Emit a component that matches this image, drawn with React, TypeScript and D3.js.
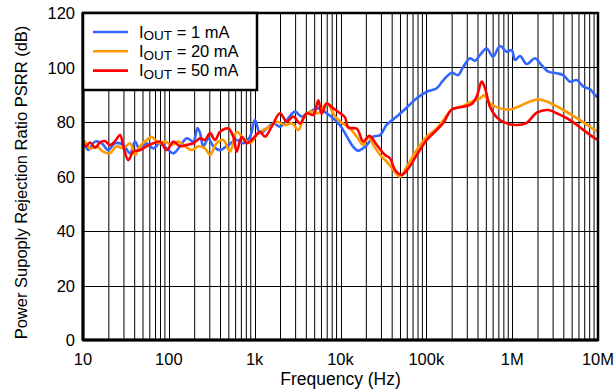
import React from "react";
import * as d3 from "d3";

// ---- data ----
const xTickValues = [10, 100, 1e3, 1e4, 1e5, 1e6, 1e7];
const xTickLabels = ["10", "100", "1k", "10k", "100k", "1M", "10M"];
const yTickValues = [0, 20, 40, 60, 80, 100, 120];

const freq1mA = [10, 10.5, 11.5, 13.8, 16.5, 19.7, 23.6, 29.5, 35.3, 40.4, 46.1, 55.2, 65.9, 78.9, 94.5, 113, 135, 162, 193, 215, 231, 252, 288, 330, 395, 493, 618, 737, 883, 1009, 1154, 1381, 1649, 1974, 2362, 2951, 3533, 4414, 5513, 6909, 8245, 9870, 11800, 14000, 16000, 20200, 24100, 28900, 34600, 45200, 59100, 77300, 101000, 132000, 158000, 198000, 234000, 270000, 323000, 369000, 422000, 505000, 598000, 722000, 864000, 988000, 1080000, 1235000, 1477000, 1850000, 2110000, 2640000, 3300000, 3940000, 4720000, 5650000, 6750000, 8080000, 9230000, 10000000];
const psrr1mA = [72, 71.6, 69.7, 72.8, 72.2, 69.7, 72.2, 71.6, 68.5, 72.8, 69.7, 72.2, 70.3, 72.2, 70.3, 68.5, 71.1, 74, 72.8, 77.8, 76, 71.1, 74, 71.1, 69.7, 71.6, 73.4, 72.2, 74.6, 80.7, 75.9, 77.6, 79.5, 78.3, 80.7, 83.8, 82, 83.8, 85, 83.2, 81.3, 78.8, 74.8, 71, 69.5, 71.5, 74.6, 75.2, 79, 82, 85.3, 88.7, 91.1, 92.4, 95.4, 98.1, 97.2, 100.3, 103.4, 102.5, 104.6, 107, 104, 107.9, 105.8, 106.4, 102.8, 104.2, 101.3, 103.4, 101.5, 98.5, 97.9, 97.2, 94.8, 95.4, 93, 92, 89.9, 89];

const freq20mA = [10, 10.5, 12.1, 14.4, 17.2, 20.6, 24.7, 29.5, 35.3, 40.4, 46.1, 55.2, 63.2, 75.4, 90.2, 108, 129, 154, 185, 220, 264, 302, 361, 431, 516, 618, 737, 883, 1056, 1261, 1509, 1806, 2257, 2701, 3226, 3859, 4619, 5513, 6909, 8245, 9033, 10800, 12900, 15500, 18400, 21100, 24100, 28900, 34600, 41200, 49400, 59100, 77300, 101000, 132000, 158000, 198000, 270000, 338000, 422000, 470000, 552000, 722000, 944000, 1235000, 1610000, 2020000, 2530000, 3940000, 6180000, 9230000, 10000000];
const psrr20mA = [73, 72.8, 70.3, 71.1, 69.1, 68.5, 71.1, 70.3, 72.2, 67.9, 71.1, 73.4, 74.6, 72.2, 72.8, 71.6, 72.8, 71.1, 69.7, 71.1, 70.3, 67.9, 72.2, 73.4, 69.1, 76.4, 74, 72.2, 75.2, 77.1, 78.3, 80.1, 78.9, 79.5, 77.1, 82.6, 83.8, 83.2, 86.8, 83.2, 81.3, 79.3, 77.6, 74.6, 71.6, 74.6, 71.6, 67.9, 65.4, 62.4, 59.9, 63.6, 69.7, 74.6, 77.6, 80.7, 84.6, 85.9, 87.5, 88.7, 89.8, 86.8, 85, 84.6, 85.9, 87.5, 88.3, 87.5, 84.4, 80.7, 77, 76.5];

const freq50mA = [10, 10.8, 12.1, 13.8, 15.8, 18, 20.6, 23.6, 27, 29.5, 33.7, 38.5, 46.1, 55.2, 65.9, 78.9, 94.5, 113, 135, 162, 193, 231, 264, 302, 345, 395, 493, 564, 618, 706, 808, 964, 1154, 1320, 1579, 1974, 2362, 2820, 3376, 4041, 4823, 5513, 6040, 6909, 8245, 9870, 11290, 12300, 15500, 18400, 21700, 26400, 33000, 37700, 43200, 51700, 61700, 77300, 101000, 132000, 158000, 198000, 270000, 338000, 386000, 442000, 483000, 552000, 661000, 864000, 1130000, 1477000, 1930000, 2640000, 3300000, 4720000, 6750000, 9230000, 10000000];
const psrr50mA = [72, 71.1, 72.5, 70.5, 72.5, 73, 71.5, 73, 75.2, 71.1, 66, 69.1, 69.7, 71.1, 72.2, 72.8, 69.7, 72.8, 71.1, 71.6, 72.2, 74, 73.4, 75.9, 73.4, 76.4, 77.6, 74.6, 69.1, 74.6, 72.2, 74, 76.4, 74.6, 78.3, 83.2, 80.1, 82, 79.5, 83.2, 82.6, 88, 83, 86.8, 85, 83.2, 81.7, 78, 77.5, 72.8, 74.9, 71.6, 67.9, 66.7, 62.4, 60.6, 63, 67.9, 73.4, 77.1, 79.7, 84.6, 85.6, 86.6, 89.3, 94.8, 92.4, 85.6, 81.7, 79.5, 78.9, 79.7, 83.4, 84.4, 83.2, 80.7, 77.1, 74, 73.5];

const seriesNames = ["1 mA", "20 mA", "50 mA"];
const seriesColors = ["#3366ff", "#ff9900", "#ff0000"];

// ---- layout ----
const W = 615;
const H = 391;
const L = 83, R = 598, T = 13, B = 340;

export default function App() {
  const x = d3.scaleLog().domain([10, 1e7]).range([L, R]);
  const y = d3.scaleLinear().domain([0, 120]).range([B, T]);

  const minor: number[] = [];
  for (let e = 1; e < 7; e++) {
    for (let m = 2; m <= 9; m++) minor.push(m * Math.pow(10, e));
  }

  const line = d3
    .line<[number, number]>()
    .x((d) => x(d[0]))
    .y((d) => y(d[1]))
    .curve(d3.curveCatmullRom.alpha(0.5));

  const series = [
    freq1mA.map((f, i) => [f, psrr1mA[i]] as [number, number]),
    freq20mA.map((f, i) => [f, psrr20mA[i]] as [number, number]),
    freq50mA.map((f, i) => [f, psrr50mA[i]] as [number, number]),
  ];

  const font = "'Liberation Sans', Arial, Helvetica, sans-serif";

  return (
    <svg
      width={W}
      height={H}
      style={{ position: "absolute", left: 0, top: 0, background: "#fff" }}
      fontFamily={font}
    >
      <defs>
        <clipPath id="plotclip">
          <rect x={L} y={T} width={R - L} height={B - T} />
        </clipPath>
      </defs>
      <rect x={0} y={0} width={W} height={H} fill="#fff" />
      {/* vertical grid */}
      {minor.map((v) => (
        <line key={"m" + v} x1={x(v)} x2={x(v)} y1={T} y2={B} stroke="#000" strokeWidth={1} />
      ))}
      {xTickValues.map((v) => (
        <line key={"M" + v} x1={Math.round(x(v)) + 0.5} x2={Math.round(x(v)) + 0.5} y1={T} y2={B} stroke="#000" strokeWidth={1} />
      ))}
      {/* horizontal grid */}
      {yTickValues.map((v) => (
        <line key={"h" + v} x1={L} x2={R} y1={Math.round(y(v)) + 0.5} y2={Math.round(y(v)) + 0.5} stroke="#000" strokeWidth={1} />
      ))}
      {/* series */}
      <g clipPath="url(#plotclip)">
        {series.map((s, i) => (
          <path key={i} d={line(s) || ""} fill="none" stroke={seriesColors[i]} strokeWidth={2.6} strokeLinejoin="round" strokeLinecap="round" />
        ))}
      </g>
      {/* frame */}
      <rect x={L} y={T} width={R - L} height={B - T} fill="none" stroke="#000" strokeWidth={2.5} />
      <line x1={L} x2={R} y1={B} y2={B} stroke="#000" strokeWidth={3} />
      <line x1={L} x2={L} y1={T} y2={B} stroke="#000" strokeWidth={3} />
      {/* legend */}
      <rect x={L} y={T} width={174} height={77} fill="#fff" stroke="#000" strokeWidth={2.5} />
      {seriesNames.map((n, i) => {
        const yy = 32 + i * 19.3;
        return (
          <g key={n}>
            <line x1={93} x2={128} y1={yy} y2={yy} stroke={seriesColors[i]} strokeWidth={2.6} />
            <text x={139} y={yy + 5.8} fontSize={16.5} fill="#000">
              I
              <tspan fontSize={13.5} dy={2.5}>OUT</tspan>
              <tspan dy={-2.5}>{" = " + n}</tspan>
            </text>
          </g>
        );
      })}
      {/* y tick labels */}
      {yTickValues.map((v) => (
        <text key={"yl" + v} x={75} y={y(v) + 6} fontSize={16.5} textAnchor="end" fill="#000">
          {v}
        </text>
      ))}
      {/* x tick labels */}
      {xTickValues.map((v, i) => (
        <text key={"xl" + v} x={x(v)} y={365} fontSize={16.5} textAnchor="middle" fill="#000">
          {xTickLabels[i]}
        </text>
      ))}
      <text x={(L + R) / 2} y={385} fontSize={17.5} textAnchor="middle" fill="#000">
        Frequency (Hz)
      </text>
      <text
        transform={`translate(27, ${(T + B) / 2 + 6}) rotate(-90)`}
        fontSize={16.5}
        textAnchor="middle"
        fill="#000"
      >
        Power Supoply Rejection Ratio PSRR (dB)
      </text>
    </svg>
  );
}
